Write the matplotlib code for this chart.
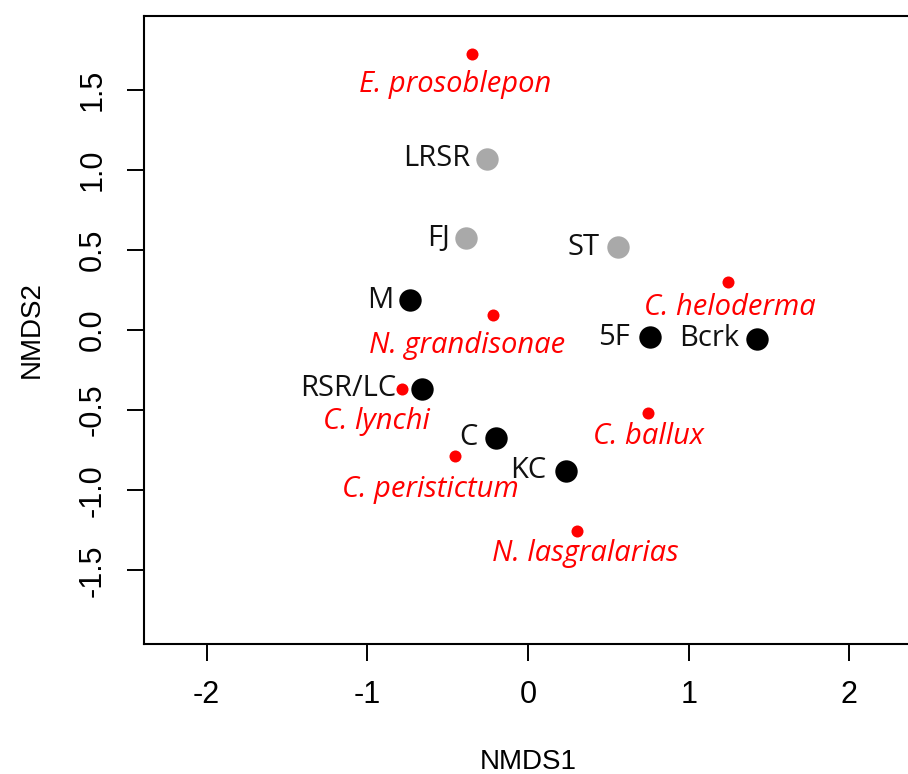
import matplotlib
matplotlib.use("Agg")
import matplotlib.pyplot as plt

plt.rcParams["axes.unicode_minus"] = False

# sites (black = one group, gray = other)
site_names = ["LRSR", "FJ", "ST", "M", "5F", "Bcrk", "RSR/LC", "C", "KC"]
site_x = [-0.255, -0.386, 0.56, -0.735, 0.76, 1.427, -0.66, -0.20, 0.237]
site_y = [1.07, 0.574, 0.518, 0.187, -0.044, -0.056, -0.368, -0.674, -0.88]
site_group = ["gray", "gray", "gray", "black", "black", "black", "black", "black", "black"]

# species scores
species_names = ["E. prosoblepon", "N. grandisonae", "C. heloderma", "C. lynchi",
                 "C. peristictum", "C. ballux", "N. lasgralarias"]
species_x = [-0.35, -0.218, 1.246, -0.785, -0.455, 0.748, 0.305]
species_y = [1.72, 0.094, 0.30, -0.368, -0.786, -0.518, -1.254]

# label offsets in pixels (label placement only)
site_off = [(-17, 0), (-16, 0), (-18, 0), (-17, 0), (-20, 0), (-18, 0), (-26, 0), (-18, 0), (-20, 0)]
species_off = [(-17, -30), (-26, -31), (2, -26), (-25, -33), (-25, -34), (0, -24), (8, -23)]

fig = plt.figure(figsize=(9.08, 7.74), dpi=100)
ax = fig.add_axes([144 / 908, 130 / 774, 768 / 908, 628 / 774])

colors = {"gray": "#a9a9a9", "black": "black"}
for name, x, y, g, off in zip(site_names, site_x, site_y, site_group, site_off):
    ax.scatter(x, y, s=260, color=colors[g], zorder=3, linewidths=0)
    ax.annotate(name, (x, y), xytext=off, textcoords="offset pixels",
                ha="right", va="center", fontsize=21, family="Open Sans", color="#111111")

for name, x, y, off in zip(species_names, species_x, species_y, species_off):
    ax.scatter(x, y, s=75, color="#ff0000", zorder=4, linewidths=0)
    ax.annotate(name, (x, y), xytext=off, textcoords="offset pixels",
                ha="center", va="center", fontsize=21, family="Open Sans",
                style="italic", color="#ff0000")

ax.set_xlim(-2.39, 2.39)
ax.set_ylim(-1.96, 1.96)
ax.set_xticks([-2, -1, 0, 1, 2])
ax.set_yticks([-1.5, -1.0, -0.5, 0.0, 0.5, 1.0, 1.5])
ax.set_yticklabels(["-1.5", "-1.0", "-0.5", "0.0", "0.5", "1.0", "1.5"],
                   rotation=90, va="center")
ax.tick_params(axis="both", length=12, width=1.4, pad=14, labelsize=22)
for lab in ax.get_xticklabels() + ax.get_yticklabels():
    lab.set_family("Liberation Sans")
for sp in ax.spines.values():
    sp.set_linewidth(1.5)

ax.set_xlabel("NMDS1", fontsize=20, family="Liberation Sans", labelpad=28)
ax.set_ylabel("NMDS2", fontsize=20, family="Liberation Sans", labelpad=24)

fig.savefig("out.png", dpi=100)
